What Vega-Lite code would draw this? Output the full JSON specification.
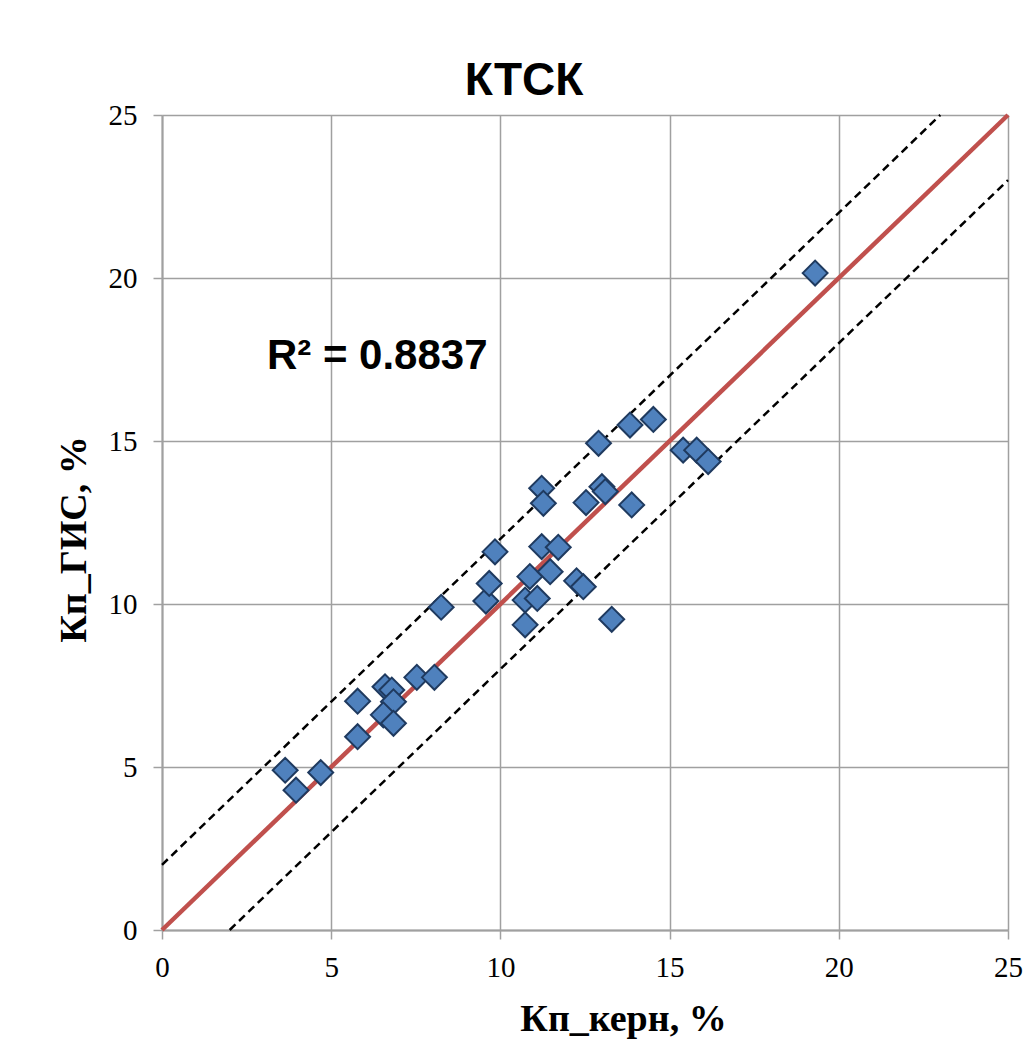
{
  "$schema": "https://vega.github.io/schema/vega-lite/v6.json",
  "autosize": {"type": "none"},
  "padding": {"left": 162, "top": 115, "right": 23, "bottom": 110},
  "width": 846,
  "height": 815,
  "background": "white",
  "title": {
    "text": "КТСК",
    "font": "Liberation Sans",
    "fontSize": 46,
    "fontWeight": "bold",
    "color": "black",
    "anchor": "middle",
    "baseline": "alphabetic",
    "offset": 25,
    "dx": -61,
    "dy": 65
  },
  "config": {
    "view": {"stroke": null},
    "axis": {
      "gridColor": "#A0A0A0",
      "gridWidth": 1.5,
      "domainColor": "#A0A0A0",
      "domainWidth": 2,
      "tickColor": "#A0A0A0",
      "tickWidth": 1.5,
      "tickSize": 9,
      "labelFlush": false,
      "labelFont": "Liberation Serif",
      "labelFontSize": 29,
      "labelColor": "black",
      "titleFont": "Liberation Serif",
      "titleFontSize": 38,
      "titleFontWeight": "bold",
      "titleColor": "black"
    }
  },
  "datasets": {
    "pts": [
      {"kern": 3.64, "gis": 4.90}, {"kern": 3.96, "gis": 4.29}, {"kern": 4.69, "gis": 4.83},
      {"kern": 5.78, "gis": 7.02}, {"kern": 5.78, "gis": 5.93}, {"kern": 6.59, "gis": 7.46},
      {"kern": 6.79, "gis": 7.36}, {"kern": 6.84, "gis": 7.0}, {"kern": 6.54, "gis": 6.6},
      {"kern": 6.84, "gis": 6.34}, {"kern": 7.53, "gis": 7.75}, {"kern": 8.05, "gis": 7.75},
      {"kern": 8.25, "gis": 9.9}, {"kern": 9.57, "gis": 10.09}, {"kern": 9.67, "gis": 10.63},
      {"kern": 9.84, "gis": 11.6}, {"kern": 10.73, "gis": 10.12}, {"kern": 10.73, "gis": 9.36},
      {"kern": 10.87, "gis": 10.84}, {"kern": 11.09, "gis": 10.17}, {"kern": 11.22, "gis": 13.55},
      {"kern": 11.27, "gis": 13.09}, {"kern": 11.22, "gis": 11.76}, {"kern": 11.47, "gis": 10.99},
      {"kern": 11.71, "gis": 11.74}, {"kern": 12.25, "gis": 10.71}, {"kern": 12.45, "gis": 10.53},
      {"kern": 12.53, "gis": 13.11}, {"kern": 12.9, "gis": 14.93}, {"kern": 13.0, "gis": 13.6},
      {"kern": 13.1, "gis": 13.45}, {"kern": 13.29, "gis": 9.53}, {"kern": 13.83, "gis": 15.49},
      {"kern": 13.88, "gis": 13.04}, {"kern": 14.52, "gis": 15.66}, {"kern": 15.4, "gis": 14.72},
      {"kern": 15.8, "gis": 14.72}, {"kern": 16.14, "gis": 14.37}, {"kern": 19.3, "gis": 20.15}
    ],
    "fit": [{"kern": 0, "gis": 0}, {"kern": 25, "gis": 25}],
    "upper": [{"kern": 0, "gis": 2}, {"kern": 23, "gis": 25}],
    "lower": [{"kern": 2, "gis": 0}, {"kern": 25, "gis": 23}],
    "note": [{"kern": 3.1, "gis": 17.62, "label": "R² = 0.8837"}]
  },
  "encoding": {
    "x": {
      "field": "kern", "type": "quantitative",
      "scale": {"domain": [0, 25], "nice": false, "zero": false},
      "axis": {
        "values": [0, 5, 10, 15, 20, 25],
        "title": "Кп_керн, %",
        "labelPadding": 14,
        "titleX": 461,
        "titleY": 100,
        "titleBaseline": "alphabetic",
        "titleAnchor": "start",
        "titleAlign": "center"
      }
    },
    "y": {
      "field": "gis", "type": "quantitative",
      "scale": {"domain": [0, 25], "nice": false, "zero": false},
      "axis": {
        "values": [0, 5, 10, 15, 20, 25],
        "title": "Кп_ГИС, %",
        "labelPadding": 16,
        "titleAngle": -90,
        "titleX": -77,
        "titleY": 424,
        "titleBaseline": "alphabetic",
        "titleAlign": "center",
        "titleAnchor": "start"
      }
    }
  },
  "layer": [
    {"data": {"name": "upper"}, "mark": {"type": "line", "color": "black", "strokeWidth": 2.5, "strokeDash": [8, 5]}},
    {"data": {"name": "lower"}, "mark": {"type": "line", "color": "black", "strokeWidth": 2.5, "strokeDash": [8, 5]}},
    {"data": {"name": "fit"}, "mark": {"type": "line", "color": "#C0504D", "strokeWidth": 4.5}},
    {"data": {"name": "pts"}, "mark": {"type": "point", "shape": "diamond", "filled": true, "size": 620, "fill": "#4F81BD", "stroke": "#1F3A5F", "strokeWidth": 2, "opacity": 1}},
    {"data": {"name": "note"}, "mark": {"type": "text", "font": "Liberation Sans", "fontSize": 42, "fontWeight": "bold", "align": "left", "baseline": "middle", "color": "black"}, "encoding": {"text": {"field": "label"}}}
  ]
}
